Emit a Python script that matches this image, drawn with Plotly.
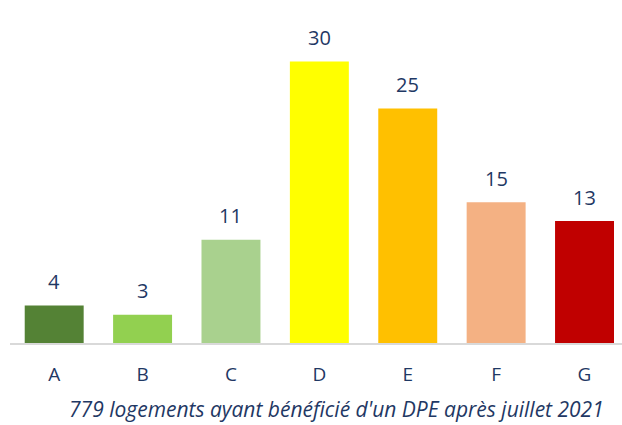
import plotly.graph_objects as go

# DPE energy classes and share of dwellings (%)
classes = ["A", "B", "C", "D", "E", "F", "G"]
shares = [4, 3, 11, 30, 25, 15, 13]
colors = ["#548235", "#92D050", "#A9D18E", "#FFFF00", "#FFC000", "#F4B183", "#C00000"]
caption = "779 logements ayant bénéficié d'un DPE après juillet 2021"

navy = "#1F3864"
font_family = "Open Sans, Noto Sans, sans-serif"

fig = go.Figure(
    go.Bar(
        x=classes,
        y=shares,
        marker=dict(color=colors, line=dict(width=0)),
        width=0.667,
        hoverinfo="skip",
    )
)

# value labels above each bar
for c, v in zip(classes, shares):
    fig.add_annotation(
        x=c, y=v, text=str(v), showarrow=False,
        yanchor="middle", yshift=24,
        font=dict(family=font_family, size=20, color=navy),
    )

# caption under the category axis
fig.add_annotation(
    xref="paper", yref="paper", x=(336 - 10) / 612, y=0,
    yshift=-66, yanchor="middle", xanchor="center",
    text=f"<i>{caption}</i>", showarrow=False,
    font=dict(family=font_family, size=21, color=navy),
)

fig.update_layout(
    width=622, height=425,
    margin=dict(l=10, r=0, t=10, b=82),
    plot_bgcolor="white", paper_bgcolor="white",
    showlegend=False,
    xaxis=dict(
        range=[-0.5, 6.424],
        showline=True, linecolor="#D9D9D9", linewidth=2,
        ticks="outside", ticklen=13, tickcolor="rgba(0,0,0,0)",
        tickfont=dict(family=font_family, size=19, color=navy),
        showgrid=False, zeroline=False, fixedrange=True,
    ),
    yaxis=dict(
        range=[0, 35.5], visible=False, showgrid=False, zeroline=False, fixedrange=True,
    ),
)

fig.write_html("out.html", config={"displayModeBar": False})
